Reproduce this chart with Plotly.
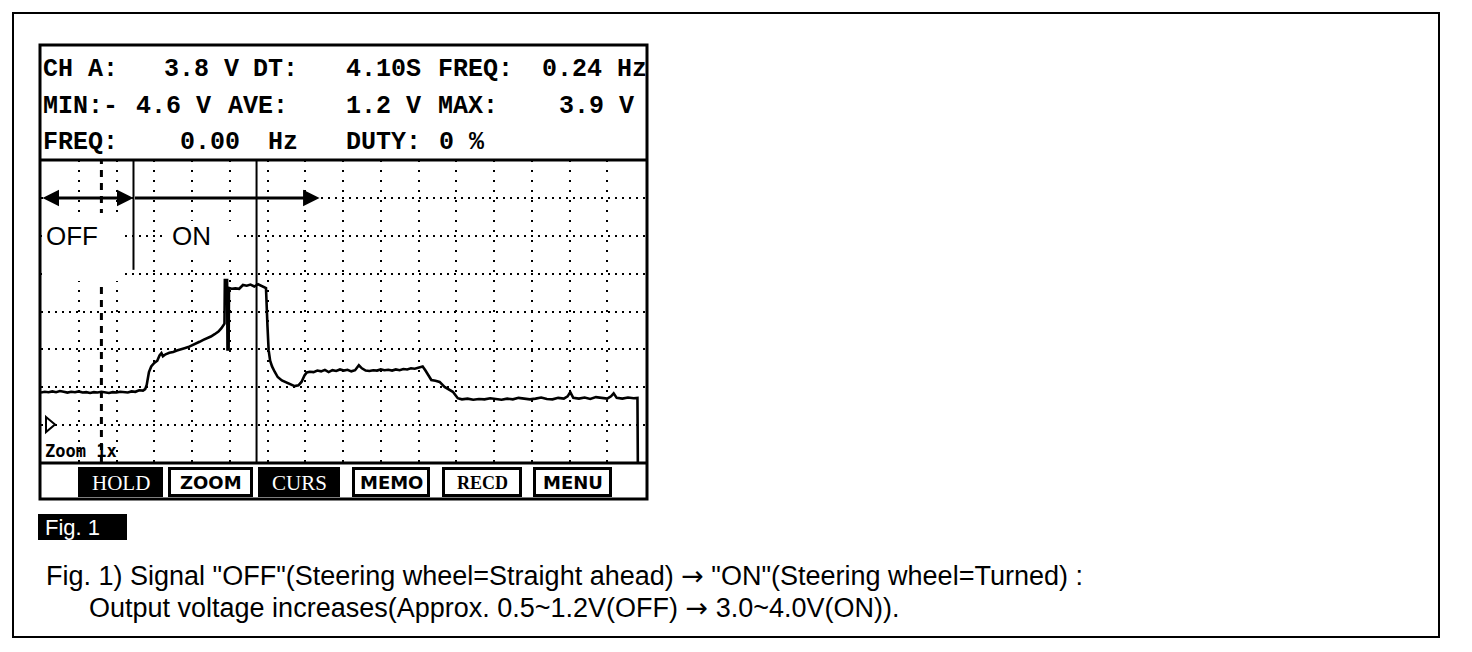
import plotly.graph_objects as go

# ---------------- data (time in divisions, voltage in V) ----------------
off_t = [0.00,0.10,0.20,0.30,0.40,0.50,0.60,0.70,0.80,0.90,1.00,1.10,1.20,1.30,1.40,
         1.50,1.60,1.70,1.80,1.90,2.00,2.10,2.20,2.30,2.40,2.50,2.60,2.70,2.76]
off_v = [0.86,0.88,0.87,0.89,0.87,0.90,0.88,0.86,0.88,0.87,0.89,0.86,0.87,0.85,0.87,
         0.86,0.88,0.86,0.85,0.87,0.86,0.88,0.87,0.86,0.89,0.88,0.92,0.91,0.95]
rise_t = [2.80,2.86,2.92,3.00,3.08,3.14,3.19,3.23,3.30,3.40,3.50,3.60,3.70,3.80,3.90,
          4.00,4.10,4.20,4.30,4.40,4.50,4.60,4.70,4.78,4.86]
rise_v = [1.06,1.40,1.55,1.64,1.70,1.84,1.90,1.82,1.87,1.91,1.93,1.97,1.99,2.03,2.06,
          2.10,2.16,2.20,2.25,2.29,2.34,2.40,2.47,2.56,2.68]
on_t = [4.87,4.93,4.94,4.97,4.98,5.05,5.15,5.25,5.35,5.45,5.55,5.65,5.75,5.85,5.96]
on_v = [3.83,3.83,2.00,2.00,3.62,3.60,3.61,3.60,3.70,3.68,3.71,3.66,3.72,3.68,3.62]
fall_t = [6.00,6.03,6.07,6.12,6.19,6.27,6.38,6.50,6.62,6.72,6.82,6.90,6.98,7.04]
fall_v = [2.60,1.98,1.70,1.55,1.41,1.27,1.18,1.12,1.07,1.03,1.05,1.14,1.31,1.39]
mid_t = [7.12,7.22,7.32,7.42,7.52,7.62,7.72,7.82,7.92,8.02,8.12,8.22,8.32,8.42,8.50,
         8.60,8.70,8.80,8.90,9.00,9.10,9.20,9.30,9.40,9.50,9.60,9.70,9.80,9.90,10.00,10.11]
mid_v = [1.41,1.40,1.44,1.42,1.46,1.40,1.45,1.43,1.47,1.44,1.46,1.42,1.45,1.58,1.50,
         1.44,1.43,1.45,1.44,1.47,1.45,1.46,1.44,1.47,1.45,1.48,1.47,1.50,1.49,1.52,1.55]
drop_t = [10.18,10.26,10.34,10.45,10.56,10.69,10.80,10.91,11.04]
drop_v = [1.45,1.30,1.19,1.17,1.14,1.01,0.95,0.88,0.71]
low_t = [11.15,11.30,11.45,11.60,11.75,11.90,12.05,12.20,12.35,12.50,12.65,12.80,
         12.95,13.10,13.25,13.40,13.55,13.70,13.85,13.95,14.02,14.10,14.25,14.40,
         14.55,14.70,14.85,15.00,15.10,15.17,15.25,15.40,15.55,15.70,15.80,15.81]
low_v = [0.68,0.70,0.67,0.69,0.68,0.71,0.68,0.67,0.70,0.68,0.72,0.69,
         0.68,0.70,0.73,0.69,0.68,0.72,0.70,0.76,0.87,0.72,0.70,0.73,
         0.69,0.74,0.71,0.70,0.76,0.84,0.72,0.70,0.73,0.71,0.72,-1.0]

trigger_t = 1.60      # dashed marker
cursor1_t = 2.45      # cursor (partial)
cursor2_t = 5.71      # cursor (full)
arrow_v = 6.0
arrow_end_t = 7.38

header_rows = [
    [("CH A:", 44), ("3.8 V", 165), ("DT:", 254), ("4.10S", 347), ("FREQ:", 439), ("0.24 Hz", 543)],
    [("MIN:-", 44), ("4.6 V", 137), ("AVE:", 229), ("1.2 V", 347), ("MAX:", 439), ("3.9 V", 560)],
    [("FREQ:", 44), ("0.00", 181), ("Hz", 269), ("DUTY:", 347), ("0 %", 440)],
]
header_y = [69, 106, 142]

buttons = ["HOLD", "ZOOM", "CURS", "MEMO", "RECD", "MENU"]
button_x0 = [78, 168, 258, 352, 442, 533]
button_x1 = [163, 253, 340, 430, 522, 612]
button_inv = [True, False, True, False, False, False]

ARROW = '<span style="font-family:DejaVu Sans">\u2192</span>'
caption1 = 'Fig. 1) Signal "OFF"(Steering wheel=Straight ahead) ' + ARROW + ' "ON"(Steering wheel=Turned) :'
caption2 = 'Output voltage increases(Approx. 0.5~1.2V(OFF) ' + ARROW + ' 3.0~4.0V(ON)).'

# ---------------- geometry helpers (page pixel coordinates) ----------------
W, H = 1472, 652
OFS = 8                      # page body margin
PL, PR, PT, PB = 41, 645, 160, 463


def px(x):
    return (x - PL) / (PR - PL)


def py(y):
    return (PB - y) / (PB - PT)


trace_t = off_t + rise_t + on_t + fall_t + mid_t + drop_t + low_t
trace_v = off_v + rise_v + on_v + fall_v + mid_v + drop_v + low_v

fig = go.Figure()
fig.add_trace(go.Scatter(x=trace_t, y=trace_v, mode="lines",
                         line=dict(color="black", width=2.6), hoverinfo="skip",
                         showlegend=False))

shapes = []
annotations = []


def prect(x0, y0, x1, y1, lw=2, fill=None, layer="above"):
    shapes.append(dict(type="rect", xref="paper", yref="paper",
                       x0=px(x0), x1=px(x1), y0=py(y0), y1=py(y1),
                       line=dict(color="black", width=lw),
                       fillcolor=fill if fill else "rgba(0,0,0,0)", layer=layer))


def pline(x0, y0, x1, y1, lw=2):
    shapes.append(dict(type="line", xref="paper", yref="paper",
                       x0=px(x0), x1=px(x1), y0=py(y0), y1=py(y1),
                       line=dict(color="black", width=lw)))


def ptext(x, y, s, size, family, color="black", xanchor="left"):
    annotations.append(dict(xref="paper", yref="paper", x=px(x), y=py(y), text=s,
                            showarrow=False, xanchor=xanchor, yanchor="middle",
                            font=dict(size=size, family=family, color=color)))


# markers / cursors in data coordinates
shapes.append(dict(type="line", xref="x", yref="y", x0=trigger_t, x1=trigger_t, y0=-1, y1=7,
                   line=dict(color="black", width=3, dash="7px,6px")))
shapes.append(dict(type="line", xref="x", yref="y", x0=cursor1_t, x1=cursor1_t, y0=4.1, y1=7,
                   line=dict(color="black", width=2)))
shapes.append(dict(type="line", xref="x", yref="y", x0=cursor2_t, x1=cursor2_t, y0=-1, y1=7,
                   line=dict(color="black", width=2)))

# white boxes behind the OFF / ON labels
prect(42, 213, 122, 281, lw=0, fill="white")
prect(163, 221, 233, 252, lw=0, fill="white")

# frames
prect(13, 13, 1439, 637, lw=2)
prect(40, 45, 647, 499, lw=3)
pline(40, 160, 647, 160, lw=3)
pline(40, 463, 647, 463, lw=3)

# ground marker
shapes.append(dict(type="path", xref="paper", yref="paper",
                   path="M %f,%f L %f,%f L %f,%f Z" % (px(46), py(417), px(55), py(424.5), px(46), py(432)),
                   line=dict(color="black", width=2), fillcolor="white"))

# buttons
for name, x0, x1, inv in zip(buttons, button_x0, button_x1, button_inv):
    if inv:
        prect(x0, 467, x1, 497, lw=0, fill="black")
        ptext((x0 + x1) / 2, 482.5, name, 21, "Liberation Serif", color="white", xanchor="center")
    else:
        prect(x0 + 1.5, 468.5, x1 - 1.5, 495.5, lw=3, fill="white")
        fam = "Liberation Serif" if name == "RECD" else "DejaVu Sans"
        ptext((x0 + x1) / 2, 482.5, "<b>%s</b>" % name, 18, fam, xanchor="center")

# header texts
for row, yy in zip(header_rows, header_y):
    for s, xx in row:
        ptext(xx - 3, yy, "<b>%s</b>" % s, 25, "Liberation Mono")

ptext(43, 451, "<b>Zoom 1x</b>", 17, "DejaVu Sans Mono")

# labels inside plot
ptext(44, 236, "OFF", 26, "Liberation Sans")
ptext(170, 236, "ON", 26, "Liberation Sans")

# arrows
annotations.append(dict(x=cursor1_t, y=arrow_v, ax=0.0, ay=arrow_v, xref="x", yref="y",
                        axref="x", ayref="y", text="", showarrow=True, arrowhead=2,
                        startarrowhead=2, arrowside="end+start", arrowwidth=3,
                        arrowsize=1.1, startarrowsize=1.1, arrowcolor="black"))
annotations.append(dict(x=arrow_end_t, y=arrow_v, ax=cursor1_t, ay=arrow_v, xref="x", yref="y",
                        axref="x", ayref="y", text="", showarrow=True, arrowhead=2,
                        arrowside="end", arrowwidth=3, arrowsize=1.1, arrowcolor="black"))

# figure label and caption
prect(38, 514, 127, 540, lw=0, fill="black")
ptext(43, 527, "Fig. 1", 22, "Liberation Sans", color="white")
ptext(44, 575, caption1, 27, "Liberation Sans")
ptext(87, 607, caption2, 27, "Liberation Sans")

fig.update_layout(
    width=W, height=H, autosize=False,
    margin=dict(l=PL - OFS, r=W - (PR - OFS), t=PT - OFS, b=H - (PB - OFS), pad=0),
    paper_bgcolor="white", plot_bgcolor="white",
    shapes=shapes, annotations=annotations, showlegend=False,
    xaxis=dict(range=[0, 16], dtick=1, tick0=0, showgrid=True, gridcolor="black",
               gridwidth=1.5, griddash="2px,8px", zeroline=False, showticklabels=False,
               ticks="", showline=False, fixedrange=True),
    yaxis=dict(range=[-1, 7], dtick=1, tick0=0, showgrid=True, gridcolor="black",
               gridwidth=1.5, griddash="2px,5px", zeroline=False, showticklabels=False,
               ticks="", showline=False, fixedrange=True),
)

fig.write_html("out.html", config={"displayModeBar": False})
